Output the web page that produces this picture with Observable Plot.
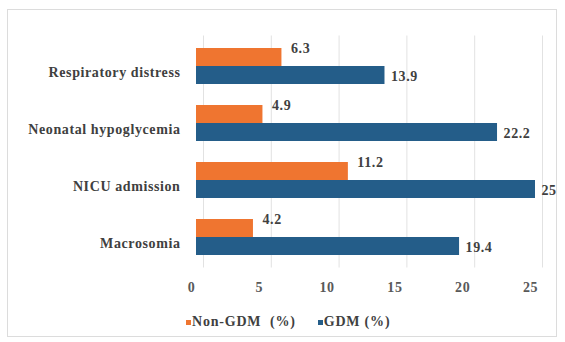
<!DOCTYPE html>
<html>
<head>
<meta charset="utf-8">
<script src="https://cdn.jsdelivr.net/npm/d3@7"></script>
<script src="https://cdn.jsdelivr.net/npm/@observablehq/plot@0.6"></script>
<style>
  html, body { margin: 0; padding: 0; background: #fff; }
  body { width: 565px; height: 342px; position: relative; overflow: hidden; font-family: "Liberation Serif", "DejaVu Serif", serif; }
  #frame { position: absolute; left: 7px; top: 9px; width: 550px; height: 328px; border: 1px solid #dcdcdc; box-sizing: border-box; }
  #chart { position: absolute; left: 0; top: 0; }
  #chart svg text { letter-spacing: 0.6px; }
  #legend { position: absolute; left: 186px; top: 314px; font-weight: bold; font-size: 14px; color: #404040; display: flex; gap: 22px; letter-spacing: 0.8px; white-space: pre; }
  #legend .item { display: flex; align-items: center; }
  #legend .sw { width: 5px; height: 5px; display: inline-block; margin-right: 1px; }
</style>
</head>
<body>
<div id="frame"></div>
<div id="chart"></div>
<div id="legend"></div>
<script>
const categories = ["Respiratory distress", "Neonatal hypoglycemia", "NICU admission", "Macrosomia"];
const nonGdm = [6.3, 4.9, 11.2, 4.2];
const gdm = [13.9, 22.2, 25, 19.4];
const seriesNames = ["Non-GDM  (%)", "GDM (%)"];
const seriesColors = ["#ef7530", "#245d89"];
const seriesEdge = ["#9c4a1c", "#163c5a"];
const xTicks = [0, 5, 10, 15, 20, 25];

const rows = categories.map((c, i) => ({category: c, nonGdm: nonGdm[i], gdm: gdm[i]}));
const half = 18;

const plot = Plot.plot({
  width: 565,
  height: 305,
  marginLeft: 196,
  marginRight: 30,
  marginTop: 35.5,
  marginBottom: 37.5,
  style: {fontFamily: "'Liberation Serif', 'DejaVu Serif', serif", fontWeight: "bold", background: "transparent"},
  x: {domain: [0, 25], axis: null},
  y: {type: "band", domain: categories, paddingInner: 0.376, paddingOuter: 0.2, axis: null},
  marks: [
    Plot.gridX(xTicks, {stroke: "#e2e2e2", strokeOpacity: 1, dx: 7}),
    Plot.axisX(xTicks, {tickSize: 0, tickPadding: 14, dx: -5, fontSize: 14, fill: "#595959", label: null, tickFormat: d => String(d)}),
    Plot.axisY({tickSize: 0, tickPadding: 16, dy: 6, fontSize: 14, fill: "#404040", label: null}),
    Plot.barX(rows, {y: "category", x: "nonGdm", fill: seriesColors[0], insetBottom: half}),
    Plot.barX(rows, {y: "category", x: "gdm", fill: seriesColors[1], insetTop: half}),
    Plot.ruleX(rows, {y: "category", x: "nonGdm", stroke: seriesEdge[0], strokeWidth: 3, dx: -1.5, insetBottom: half}),
    Plot.ruleX(rows, {y: "category", x: "gdm", stroke: seriesEdge[1], strokeWidth: 3, dx: -1.5, insetTop: half}),
    Plot.text(rows, {y: "category", x: "nonGdm", text: d => String(d.nonGdm), textAnchor: "start", dx: 9, dy: -18, fontSize: 14, fill: "#404040"}),
    Plot.text(rows, {y: "category", x: "gdm", text: d => String(d.gdm), textAnchor: "start", dx: 6, dy: 10, fontSize: 14, fill: "#404040"})
  ]
});
document.getElementById("chart").appendChild(plot);

const legend = document.getElementById("legend");
seriesNames.forEach((name, i) => {
  const item = document.createElement("span");
  item.className = "item";
  const sw = document.createElement("span");
  sw.className = "sw";
  sw.style.background = seriesColors[i];
  item.appendChild(sw);
  item.appendChild(document.createTextNode(name));
  legend.appendChild(item);
});
</script>
</body>
</html>
